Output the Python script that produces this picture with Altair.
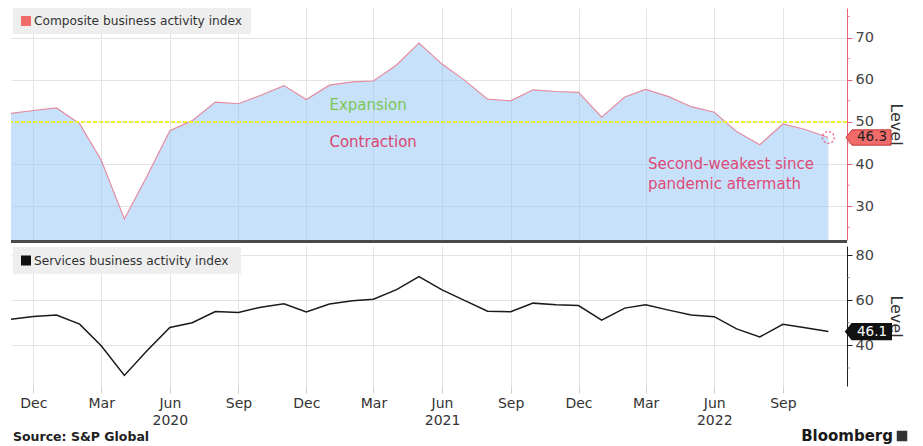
import altair as alt
import pandas as pd

# ---------------- data ----------------
months = pd.date_range("2019-11-01", periods=37, freq="MS").strftime("%Y-%m-%d").tolist()
composite = [52.0, 52.7, 53.3, 49.6, 40.9, 27.0, 37.0, 47.9, 50.3, 54.7, 54.3, 56.3,
             58.6, 55.3, 58.7, 59.5, 59.7, 63.5, 68.7, 63.7, 59.9, 55.4, 55.0, 57.6,
             57.2, 57.0, 51.1, 55.9, 57.7, 56.0, 53.6, 52.3, 47.7, 44.6, 49.5, 48.2, 46.3]
services = [51.6, 52.8, 53.4, 49.4, 39.8, 26.7, 37.5, 47.9, 50.0, 55.0, 54.6, 56.9,
            58.4, 54.8, 58.3, 59.8, 60.4, 64.7, 70.4, 64.6, 59.9, 55.1, 54.9, 58.7,
            58.0, 57.6, 51.2, 56.5, 58.0, 55.6, 53.4, 52.7, 47.3, 43.7, 49.3, 47.8, 46.1]
tick_dates = ["2019-12-01", "2020-03-01", "2020-06-01", "2020-09-01", "2020-12-01",
              "2021-03-01", "2021-06-01", "2021-09-01", "2021-12-01", "2022-03-01",
              "2022-06-01", "2022-09-01"]
x_domain = ["2019-11-01", "2022-11-26"]
top_ticks = [30, 40, 50, 60, 70]
top_minor = [25, 35, 45, 55, 65, 75]
top_domain = [22, 77]
bottom_ticks = [40, 60, 80]
bottom_minor = [30, 50, 70]
bottom_domain = [22, 84]
threshold = 50
zone_labels = ["Expansion", "Contraction"]
zone_dates = ["2021-01-01", "2021-01-01"]
zone_values = [53.9, 45.2]
note_lines = ["Second-weakest since", "pandemic aftermath"]
note_dates = ["2022-03-04", "2022-03-04"]
note_values = [40.0, 35.3]

# ---------------- layout / style ----------------
W, H1, H2 = 836, 232, 140
FONT = "DejaVu Sans"


def ms(d):
    return int(pd.Timestamp(d).value // 10**6)


tick_ms = [ms(d) for d in tick_dates]
xdom_ms = [ms(d) for d in x_domain]

df = pd.DataFrame({"month": months, "composite": composite, "services": services})
last = df.iloc[[-1]]

label_expr = ("utcFormat(datum.value, '%m') == '06' ? "
              "[utcFormat(datum.value, '%b'), utcFormat(datum.value, '%Y')] : "
              "utcFormat(datum.value, '%b')")

x_top = alt.X("month:T", scale=alt.Scale(type="utc", domain=xdom_ms),
              axis=alt.Axis(values=tick_ms, labels=False, ticks=False, domain=False,
                            grid=True, gridColor="#e4e4e4", title=None))
x_bot = alt.X("month:T", scale=alt.Scale(type="utc", domain=xdom_ms),
              axis=alt.Axis(values=tick_ms, labelExpr=label_expr, ticks=True,
                            tickColor="#cfcfcf", tickSize=7, domain=False,
                            grid=True, gridColor="#e4e4e4", title=None,
                            labelFontSize=14, labelColor="#333333", labelPadding=3,
                            labelLineHeight=17, labelBaseline="top"))

ysc_top = alt.Scale(domain=top_domain, zero=False, nice=False)
ysc_bot = alt.Scale(domain=bottom_domain, zero=False, nice=False)

y_top_axis = alt.Axis(orient="right", values=top_ticks, tickSize=5, labelPadding=3,
                      domainColor="#e8627a", tickColor="#e8627a", labelColor="#444444",
                      labelFontSize=14.5, title="Level", titleFontSize=16,
                      titleFontWeight="normal", titleColor="#333333", titlePadding=14,
                      grid=True, gridColor="#e4e4e4")
y_bot_axis = alt.Axis(orient="right", values=bottom_ticks, tickSize=5, labelPadding=3,
                      domainColor="#222222", tickColor="#222222", labelColor="#444444",
                      labelFontSize=14.5, title="Level", titleFontSize=16,
                      titleFontWeight="normal", titleColor="#333333", titlePadding=14,
                      grid=True, gridColor="#e4e4e4")

badge_path = "M-1,0 L-0.73,-0.34 L1,-0.34 L1,0.34 L-0.73,0.34 Z"

# ---------------- top panel ----------------
base_top = alt.Chart(df)
area = base_top.mark_area(color="#8fc3f5", opacity=0.5).encode(
    x=x_top, y=alt.Y("composite:Q", scale=ysc_top, axis=y_top_axis),
    y2=alt.datum(top_domain[0]))
line_top = base_top.mark_line(color="#e58ba0", strokeWidth=1.2).encode(
    x="month:T", y="composite:Q")
thr = alt.Chart(pd.DataFrame({"v": [threshold]})).mark_rule(
    color="#eeee30", strokeDash=[4, 2], strokeWidth=2).encode(y="v:Q")
zones = alt.Chart(pd.DataFrame({"d": zone_dates, "v": zone_values, "t": zone_labels})).mark_text(
    align="left", baseline="middle", fontSize=15).encode(
    x="d:T", y="v:Q", text="t:N",
    color=alt.Color("t:N", scale=alt.Scale(domain=zone_labels, range=["#7cc656", "#d9466e"]),
                    legend=None))
note = alt.Chart(pd.DataFrame({"d": note_dates, "v": note_values, "t": note_lines})).mark_text(
    align="left", baseline="middle", fontSize=15, color="#df4a78").encode(
    x="d:T", y="v:Q", text="t:N")
circle = alt.Chart(last).mark_point(shape="circle", size=140, filled=False,
                                    color="#e0406a", strokeDash=[2, 2],
                                    strokeWidth=1.5).encode(x="month:T", y="composite:Q")
minor_top = alt.Chart(pd.DataFrame({"v": top_minor})).mark_tick(
    color="#e8627a", size=3, thickness=1, orient="horizontal").encode(
    y="v:Q", x=alt.value(W + 1.5))
badge_top = alt.Chart(last).mark_point(shape=badge_path, size=2025, filled=True,
                                       fill="#f26b6b", stroke="#c03535", strokeWidth=1,
                                       opacity=1).encode(
    y="composite:Q", x=alt.value(W + 21.5))
badge_top_txt = alt.Chart(last).mark_text(fontSize=13.5, color="#222222", align="center",
                                          baseline="middle").encode(
    y="composite:Q", x=alt.value(W + 25), text=alt.Text("composite:Q", format=".1f"))
leg_box_top = alt.Chart(pd.DataFrame({"a": [0]})).mark_rect(color="#eeeeee").encode(
    x=alt.value(2), x2=alt.value(240), y=alt.value(0), y2=alt.value(26))
leg_sq_top = alt.Chart(pd.DataFrame({"a": [0]})).mark_square(
    color="#f26b6b", size=100, opacity=1).encode(x=alt.value(15), y=alt.value(13))
leg_txt_top = alt.Chart(pd.DataFrame({"t": ["Composite business activity index"]})).mark_text(
    align="left", baseline="middle", fontSize=12.2, color="#333333").encode(
    x=alt.value(23), y=alt.value(13), text="t:N")
sep = alt.Chart(pd.DataFrame({"a": [0]})).mark_rule(color="#4a4a4a", strokeWidth=3).encode(
    x=alt.value(0), x2=alt.value(W), y=alt.value(H1 + 1.5))

top = alt.layer(area, line_top, thr, zones, note, circle, minor_top, badge_top,
                badge_top_txt, leg_box_top, leg_sq_top, leg_txt_top, sep).properties(
    width=W, height=H1)

# ---------------- bottom panel ----------------
base_bot = alt.Chart(df)
line_bot = base_bot.mark_line(color="#1a1a1a", strokeWidth=1.5).encode(
    x=x_bot, y=alt.Y("services:Q", scale=ysc_bot, axis=y_bot_axis))
minor_bot = alt.Chart(pd.DataFrame({"v": bottom_minor})).mark_tick(
    color="#777777", size=3, thickness=1, orient="horizontal").encode(
    y="v:Q", x=alt.value(W + 1.5))
badge_bot = alt.Chart(last).mark_point(shape=badge_path, size=2025, filled=True,
                                       fill="#111111", stroke="#111111", opacity=1).encode(
    y="services:Q", x=alt.value(W + 21.5))
badge_bot_txt = alt.Chart(last).mark_text(fontSize=13.5, color="#ffffff", align="center",
                                          baseline="middle").encode(
    y="services:Q", x=alt.value(W + 25), text=alt.Text("services:Q", format=".1f"))
leg_box_bot = alt.Chart(pd.DataFrame({"a": [0]})).mark_rect(color="#eeeeee").encode(
    x=alt.value(2), x2=alt.value(230), y=alt.value(1), y2=alt.value(28))
leg_sq_bot = alt.Chart(pd.DataFrame({"a": [0]})).mark_square(
    color="#111111", size=100, opacity=1).encode(x=alt.value(15), y=alt.value(14.5))
leg_txt_bot = alt.Chart(pd.DataFrame({"t": ["Services business activity index"]})).mark_text(
    align="left", baseline="middle", fontSize=12.2, color="#333333").encode(
    x=alt.value(23), y=alt.value(14.5), text="t:N")
source = alt.Chart(pd.DataFrame({"t": ["Source: S&P Global"]})).mark_text(
    align="left", baseline="middle", fontSize=12.5, fontWeight="bold", color="#222222").encode(
    x=alt.value(2), y=alt.value(H2 + 51), text="t:N")
brand = alt.Chart(pd.DataFrame({"t": ["Bloomberg"]})).mark_text(
    align="right", baseline="middle", fontSize=15, fontWeight="bold", color="#1a1a1a").encode(
    x=alt.value(W + 46), y=alt.value(H2 + 50), text="t:N")
brand_icon = alt.Chart(pd.DataFrame({"a": [0]})).mark_square(
    color="#333333", size=110, opacity=1).encode(x=alt.value(W + 55), y=alt.value(H2 + 50))

bottom = alt.layer(line_bot, minor_bot, badge_bot, badge_bot_txt, leg_box_bot, leg_sq_bot,
                   leg_txt_bot, source, brand, brand_icon).properties(width=W, height=H2)

chart = alt.vconcat(top, bottom, spacing=3).properties(
    padding=0, background="white"
).configure_view(stroke=None).configure_axis(
    labelFont=FONT, titleFont=FONT
).configure_text(font=FONT)

chart.save("out.html", embed_options={"renderer": "svg", "actions": False})
